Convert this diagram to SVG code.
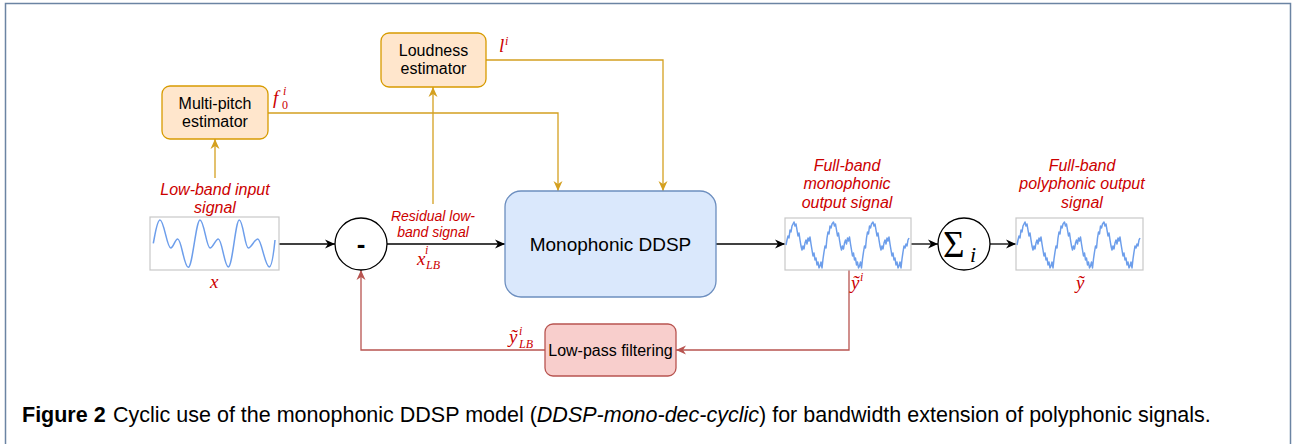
<svg xmlns="http://www.w3.org/2000/svg" xmlns:xlink="http://www.w3.org/1999/xlink" width="1292" height="444" viewBox="0 0 1292 444">
<style>
.box{font-family:"Liberation Sans",Arial,sans-serif;fill:#000;text-anchor:middle}
.lbl{font-family:"Liberation Sans",Arial,sans-serif;font-style:italic;fill:#cc0000;text-anchor:middle}
.m{font-family:"Liberation Serif","Times New Roman",serif;font-style:italic;fill:#cc0000}
.mu{font-family:"Liberation Serif","Times New Roman",serif;fill:#cc0000}
.blk{fill:none;stroke:#000;stroke-width:1.3}
.gold{fill:none;stroke:#d4a020;stroke-width:1.3}
.red{fill:none;stroke:#b85450;stroke-width:1.3}
.orange{fill:#ffe6cc;stroke:#d79b00;stroke-width:1.3}
.wbox{fill:#fff;stroke:#c8c8c8;stroke-width:1.2}
.wave{fill:none;stroke:#6d9eeb;stroke-width:1.5;stroke-linejoin:round}
.cap{font-family:"Liberation Sans",Arial,sans-serif;fill:#000;font-size:21.5px}
</style>
<defs>
<marker id="aK" viewBox="0 0 10 10" refX="10" refY="5" markerWidth="10" markerHeight="10" markerUnits="userSpaceOnUse" orient="auto"><path d="M0,0.5 L10,5 L0,9.5 L3,5 z" fill="#000"/></marker>
<marker id="aG" viewBox="0 0 10 10" refX="10" refY="5" markerWidth="10" markerHeight="10" markerUnits="userSpaceOnUse" orient="auto"><path d="M0,0.5 L10,5 L0,9.5 L3,5 z" fill="#d4a020"/></marker>
<marker id="aR" viewBox="0 0 10 10" refX="10" refY="5" markerWidth="10" markerHeight="10" markerUnits="userSpaceOnUse" orient="auto"><path d="M0,0.5 L10,5 L0,9.5 L3,5 z" fill="#b85450"/></marker>
<polyline id="outwave" class="wave" points="786,245 787,240 788,236 789,238 790,230 791,232 792,226 793,224 794,222 795,226 796,224 797,230 798,236 799,233 800,240 801,246 802,250 803,246 804,249 805,243 806,240 807,244 808,238 809,241 810,237 811,244 812,250 813,256 814,253 815,260 816,258 817,265 818,262 819,268 820,266 821,262 822,268 823,259 824,252 825,246 826,248 827,238 828,232 829,234 830,226 831,228 832,224 833.5,222 834.5,226 835.5,224 836.5,230 837.5,236 838.5,233 839.5,240 840.5,246 841.5,250 842.5,246 843.5,249 844.5,243 845.5,240 846.5,244 847.5,238 848.5,241 849.5,237 850.5,244 851.5,250 852.5,256 853.5,253 854.5,260 855.5,258 856.5,265 857.5,262 858.5,268 859.5,266 860.5,262 861.5,268 862.5,259 863.5,252 864.5,246 865.5,248 866.5,238 867.5,232 868.5,234 869.5,226 870.5,228 871.5,224 873,222 874,226 875,224 876,230 877,236 878,233 879,240 880,246 881,250 882,246 883,249 884,243 885,240 886,244 887,238 888,241 889,237 890,244 891,250 892,256 893,253 894,260 895,258 896,265 897,262 898,268 899,266 900,262 901,268 902,259 903,252 904,246 905,248 906,244 907,246 908,240 909,238"/>
</defs>
<rect x="5.5" y="3.5" width="1285" height="470" fill="#fff" stroke="#6b84a3" stroke-width="1.5"/>

<g id="connectors">
<path class="blk" d="M279,244 H335" marker-end="url(#aK)"/>
<path class="blk" d="M387,244 H505" marker-end="url(#aK)"/>
<path class="blk" d="M716,244 H785" marker-end="url(#aK)"/>
<path class="blk" d="M911,244 H938" marker-end="url(#aK)"/>
<path class="blk" d="M990,244 H1016" marker-end="url(#aK)"/>
<path class="gold" d="M215,178 V139" marker-end="url(#aG)"/>
<path class="gold" d="M433,204 V87" marker-end="url(#aG)"/>
<path class="gold" d="M268,113 H558 V191" marker-end="url(#aG)"/>
<path class="gold" d="M486,60 H663 V191" marker-end="url(#aG)"/>
<path class="red" d="M849,270 V350 H676" marker-end="url(#aR)"/>
<path class="red" d="M545,350 H361 V270" marker-end="url(#aR)"/>
</g>

<g id="multipitch">
<rect class="orange" x="162" y="86" width="106" height="53" rx="8"/>
<text class="box" font-size="16" x="215" y="109">Multi-pitch</text>
<text class="box" font-size="16" x="215" y="127">estimator</text>
<text class="m" font-size="19" x="273" y="104">f</text>
<text class="mu" font-size="12" x="282" y="109">0</text>
<text class="m" font-size="12" x="283" y="95">i</text>
</g>

<g id="loudness">
<rect class="orange" x="381" y="33" width="105" height="54" rx="8"/>
<text class="box" font-size="16" x="433.5" y="56">Loudness</text>
<text class="box" font-size="16" x="433.5" y="74">estimator</text>
<text class="m" font-size="19" x="499" y="52">l</text>
<text class="m" font-size="12" x="505" y="45">i</text>
</g>

<g id="input">
<text class="lbl" font-size="16" x="215" y="195">Low-band input</text>
<text class="lbl" font-size="16" x="215" y="213">signal</text>
<rect class="wbox" x="150" y="217" width="129" height="53"/>
<path class="wave" d="M153.3,243.3 C155,235 157,220 160,220 C164,220 167,248 170.7,248 C173.5,248 175,239 177.7,239 C181.5,239 184,267.3 188.3,267.3 C192.5,267.3 196,220 200,220 C204,220 206.5,248 210,248 C213,248 215.5,239 218.3,239 C222,239 224.5,267 228.3,267 C232.5,267 235.5,220 239.3,220 C243,220 245,248 248.3,248 C251.5,248 254.5,239 257.7,239 C261.5,239 265,267 269.3,267 C272,267 274,250 275,240"/>
<text class="m" font-size="19" x="210" y="288">x</text>
</g>

<g id="minus">
<circle cx="361" cy="244" r="26" fill="#fff" stroke="#000" stroke-width="1.3"/>
<text class="box" font-size="26" font-weight="bold" x="361" y="253">-</text>
</g>

<g id="residual">
<text class="lbl" font-size="14" x="433" y="221">Residual low-</text>
<text class="lbl" font-size="14" x="433" y="237">band signal</text>
<text class="m" font-size="19" x="417" y="265">x</text>
<text class="m" font-size="12" x="425" y="254">i</text>
<text class="m" font-size="12" x="426" y="269">LB</text>
</g>

<g id="ddsp">
<rect x="505" y="191" width="211" height="106" rx="16" fill="#dae8fc" stroke="#6c8ebf" stroke-width="1.3"/>
<text class="box" font-size="19" x="610.5" y="251">Monophonic DDSP</text>
</g>

<g id="monoout">
<text class="lbl" font-size="16" x="847" y="171">Full-band</text>
<text class="lbl" font-size="16" x="847" y="189">monophonic</text>
<text class="lbl" font-size="16" x="847" y="208">output signal</text>
<rect class="wbox" x="785" y="218" width="126" height="52"/>
<use xlink:href="#outwave"/>
<text class="m" font-size="19" x="851" y="289">ỹ</text>
<text class="m" font-size="12" x="860" y="281">i</text>
</g>

<g id="sum">
<circle cx="964" cy="244" r="26" fill="#fff" stroke="#000" stroke-width="1.3"/>
<text class="mu" font-size="37" x="943" y="257" style="fill:#000">Σ</text>
<text class="m" font-size="22" x="970" y="262" style="fill:#000">i</text>
</g>

<g id="polyout">
<text class="lbl" font-size="16" x="1082" y="171">Full-band</text>
<text class="lbl" font-size="16" x="1082" y="189">polyphonic output</text>
<text class="lbl" font-size="16" x="1082" y="208">signal</text>
<rect class="wbox" x="1016" y="218" width="127" height="52"/>
<use xlink:href="#outwave" transform="translate(231,0)"/>
<text class="m" font-size="19" x="1076" y="289">ỹ</text>
</g>

<g id="lowpass">
<rect x="545" y="324" width="131" height="52" rx="8" fill="#f8cecc" stroke="#b85450" stroke-width="1.3"/>
<text class="box" font-size="16" x="610.5" y="356">Low-pass filtering</text>
<text class="m" font-size="19" x="509" y="343">ỹ</text>
<text class="m" font-size="12" x="519" y="335">i</text>
<text class="m" font-size="12" x="519" y="348">LB</text>
</g>

<g id="caption">
<text class="cap" x="22" y="422"><tspan font-weight="bold">Figure 2</tspan><tspan x="113">Cyclic use of the monophonic DDSP model (</tspan><tspan font-style="italic">DDSP-mono-dec-cyclic</tspan><tspan>) for bandwidth extension of polyphonic signals.</tspan></text>
</g>
</svg>
